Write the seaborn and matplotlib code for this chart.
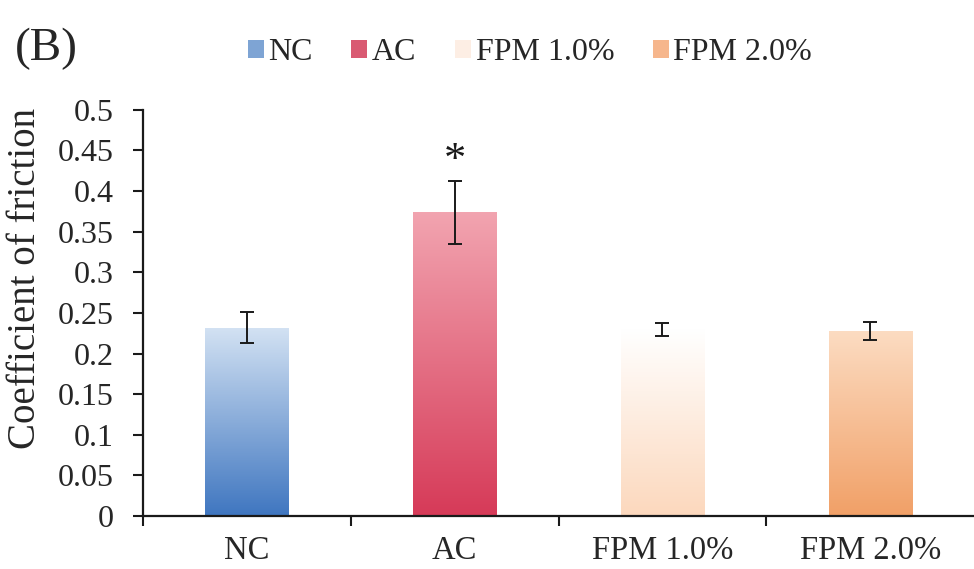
import numpy as np
import pandas as pd
import matplotlib
matplotlib.use("Agg")
import matplotlib.pyplot as plt
import seaborn as sns
from matplotlib.colors import LinearSegmentedColormap
from matplotlib.patches import Patch

groups = ["NC", "AC", "FPM 1.0%", "FPM 2.0%"]
means = [0.232, 0.374, 0.230, 0.228]
errors = [0.019, 0.039, 0.008, 0.011]
top_colors = ["#d3e2f3", "#f2a4b0", "#ffffff", "#fcdcc2"]
bottom_colors = ["#3f76c0", "#d63a58", "#fcd8bd", "#f1a067"]
legend_colors = ["#7ea4d4", "#d95a72", "#fdeee4", "#f6b68c"]

sns.set_theme(style="white")
plt.rcParams["font.family"] = ["Liberation Serif", "DejaVu Serif"]

df = pd.DataFrame({"group": groups, "mean": means})

fig = plt.figure(figsize=(9.74, 5.69), dpi=100)
ax = fig.add_axes([0.147, 0.093, 0.853, 0.714])

sns.barplot(data=df, x="group", y="mean", hue="group", palette=legend_colors,
            width=0.4, legend=False, ax=ax, errorbar=None)

for i, patch in enumerate(ax.patches[:len(groups)]):
    x0, y0 = patch.get_x(), patch.get_y()
    w, h = patch.get_width(), patch.get_height()
    cmap = LinearSegmentedColormap.from_list(f"g{i}", [bottom_colors[i], top_colors[i]])
    grad = np.linspace(0, 1, 256).reshape(-1, 1)
    im = ax.imshow(grad, extent=[x0, x0 + w, y0, y0 + h], origin="lower",
                   cmap=cmap, aspect="auto", zorder=patch.get_zorder())
    im.set_clip_path(patch)
    patch.set_facecolor("none")
    patch.set_edgecolor("none")

ax.errorbar(np.arange(len(groups)), means, yerr=errors, fmt="none",
            ecolor="#1a1a1a", elinewidth=1.4, capsize=5, capthick=1.4, zorder=5)

ax.text(1, 0.437, "*", ha="center", va="center", fontsize=32, color="#1a1a1a")

ax.set_xlim(-0.5, 3.5)
ax.set_ylim(0, 0.5)
ax.set_yticks(np.arange(0, 0.501, 0.05))
ax.set_yticklabels(["0", "0.05", "0.1", "0.15", "0.2", "0.25", "0.3", "0.35", "0.4", "0.45", "0.5"])
ax.set_xticks(range(len(groups)))
ax.set_xticklabels(groups)
ax.set_xticks([-0.5, 0.5, 1.5, 2.5], minor=True)
ax.tick_params(axis="x", which="major", length=0, labelsize=23.5, pad=14)
ax.tick_params(axis="x", which="minor", length=7, width=1.5, direction="out", color="#1a1a1a", bottom=True)
ax.tick_params(axis="y", length=7, width=1.5, direction="out", color="#1a1a1a", labelsize=23, pad=14, left=True)
ax.set_xlabel("")
ax.set_ylabel("Coefficient of friction", fontsize=28)
ax.yaxis.set_label_coords(-0.119, 0.586)

for s in ["top", "right"]:
    ax.spines[s].set_visible(False)
for s in ["left", "bottom"]:
    ax.spines[s].set_color("#1a1a1a")
    ax.spines[s].set_linewidth(1.6)

handles = [Patch(facecolor=c, edgecolor="none") for c in legend_colors]
fig.legend(handles, groups, loc="center", bbox_to_anchor=(0.544, 0.907), ncol=4,
           frameon=False, fontsize=23, handlelength=0.5, handleheight=0.5,
           handletextpad=0.15, columnspacing=1.2)

fig.text(0.015, 0.915, "(B)", fontsize=34, va="center", ha="left")

fig.savefig("out.png", dpi=100)
